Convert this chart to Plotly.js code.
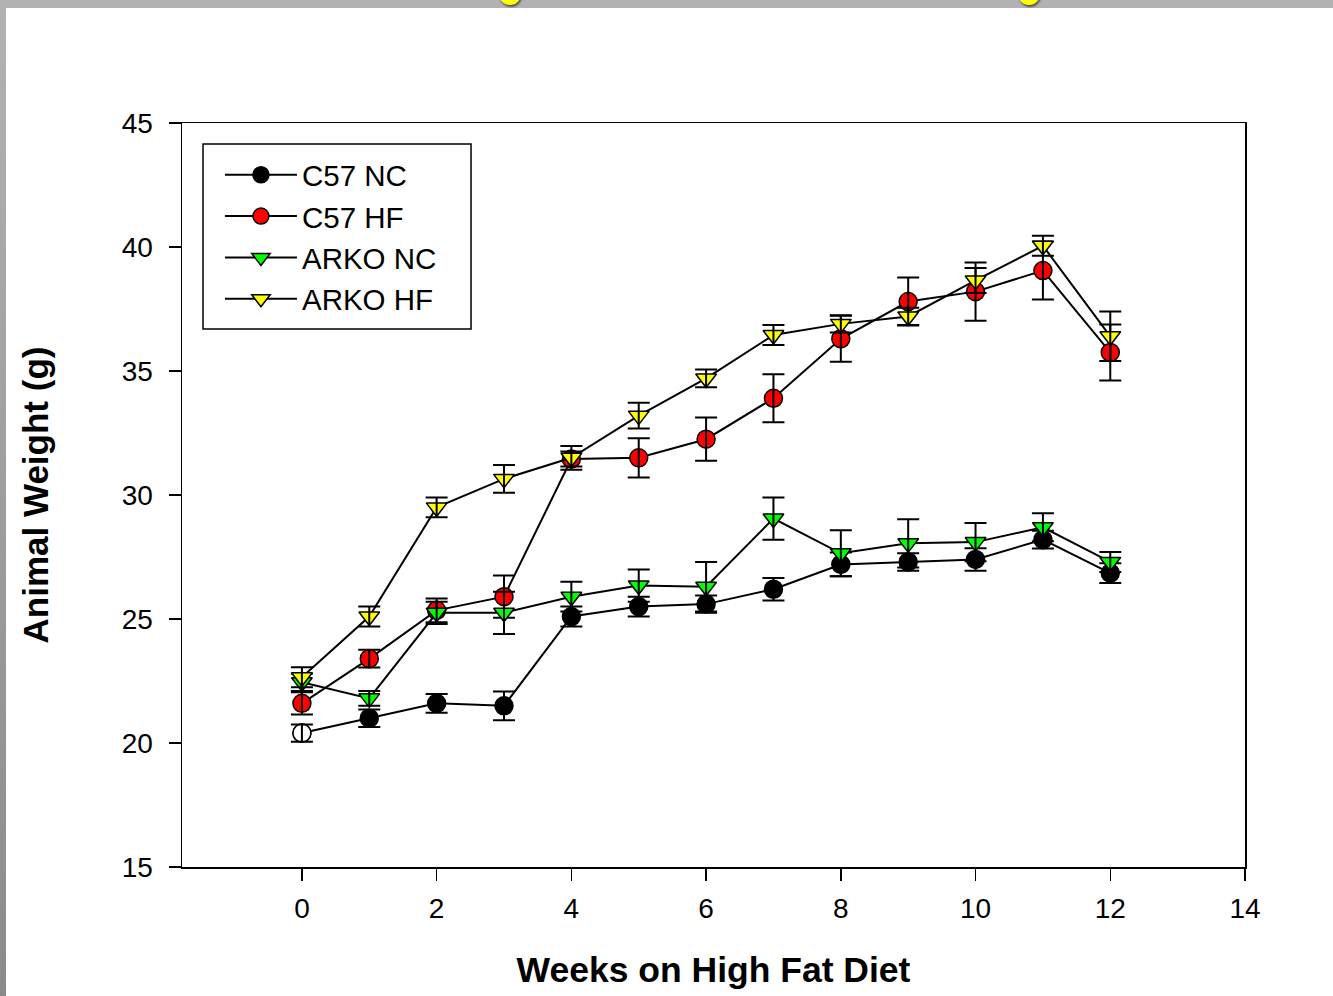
<!DOCTYPE html>
<html>
<head>
<meta charset="utf-8">
<script src="https://cdn.plot.ly/plotly-3.0.1.min.js"></script>
<style>
  html, body { margin: 0; padding: 0; }
  body {
    width: 1333px; height: 996px; overflow: hidden; position: relative;
    background: linear-gradient(to bottom, #b2b2b2 0%, #8a8a8a 100%);
  }
  #frame { position: absolute; left: 6px; top: 8px; width: 1327px; height: 988px; background: #ffffff; }
  #chart { width: 1327px; height: 988px; }
  .blob { position: absolute; width: 22px; height: 22px; border-radius: 50%;
    background: #ffff00; top: -17px; box-shadow: 1px 2px 2px #555; }
</style>
</head>
<body>
<div class="blob" style="left:499px"></div>
<div class="blob" style="left:1018px"></div>
<div id="frame"><div id="chart"></div></div>
<script>
// ---- data ----
const weeks = [0, 1, 2, 3, 4, 5, 6, 7, 8, 9, 10, 11, 12];

const seriesNames = ["C57 NC", "C57 HF", "ARKO NC", "ARKO HF"];

const c57NC    = [20.4, 21.0, 21.6, 21.5, 25.1, 25.5, 25.6, 26.2, 27.2, 27.3, 27.4, 28.2, 26.85];
const c57NCErr = [0.35, 0.35, 0.38, 0.58, 0.4, 0.4, 0.35, 0.45, 0.48, 0.35, 0.45, 0.36, 0.4];

const c57HF    = [21.6, 23.4, 25.35, 25.9, 31.45, 31.5, 32.25, 33.9, 36.3, 37.8, 38.2, 39.05, 35.75];
const c57HFErr = [0.45, 0.36, 0.48, 0.85, 0.3, 0.79, 0.87, 0.97, 0.93, 0.97, 1.17, 1.17, 1.13];

const arkoNC    = [22.45, 21.8, 25.25, 25.25, 25.9, 26.35, 26.3, 29.05, 27.65, 28.05, 28.1, 28.7, 27.3];
const arkoNCErr = [0.35, 0.3, 0.45, 0.85, 0.6, 0.65, 1.0, 0.85, 0.93, 0.97, 0.77, 0.56, 0.4];

const arkoHF    = [22.65, 25.1, 29.5, 30.65, 31.5, 33.2, 34.7, 36.45, 36.9, 37.2, 38.65, 40.05, 36.4];
const arkoHFErr = [0.4, 0.4, 0.4, 0.56, 0.48, 0.52, 0.36, 0.4, 0.35, 0.35, 0.5, 0.4, 1.0];

const xTickVals = [0, 2, 4, 6, 8, 10, 12, 14];
const yTickVals = [15, 20, 25, 30, 35, 40, 45];

// ---- styling ----
const FONT = "Liberation Sans, Arial, sans-serif";
function errBar(arr) {
  return { type: "data", array: arr, visible: true, color: "#000", thickness: 2, width: 11 };
}
function markerTrace(name, x, y, symbol, fill, extra) {
  return Object.assign({
    type: "scatter", mode: "lines+markers", name: name,
    x: x, y: y, hoverinfo: "skip",
    line: { color: "#000", width: 2 },
    marker: { symbol: symbol, size: 18, color: fill, line: { color: "#000", width: 1.5 } }
  }, extra || {});
}
// error bars drawn on top of each series' own markers (as in the original)
function errTrace(x, y, err) {
  return {
    type: "scatter", mode: "markers", showlegend: false, hoverinfo: "skip",
    x: x, y: y, error_y: errBar(err),
    marker: { size: 1, color: "rgba(0,0,0,0)" }
  };
}

const traces = [
  markerTrace(seriesNames[0], weeks, c57NC, "circle", "#000000"),
  // week-0 baseline point of C57 NC is drawn hollow in the original
  markerTrace(seriesNames[0], [weeks[0]], [c57NC[0]], "circle", "#ffffff", { mode: "markers", showlegend: false }),
  errTrace(weeks, c57NC, c57NCErr),
  markerTrace(seriesNames[1], weeks, c57HF, "circle", "#ff0000"),
  errTrace(weeks, c57HF, c57HFErr),
  markerTrace(seriesNames[2], weeks, arkoNC, "triangle-down", "#00ff00"),
  errTrace(weeks, arkoNC, arkoNCErr),
  markerTrace(seriesNames[3], weeks, arkoHF, "triangle-down", "#ffff00"),
  errTrace(weeks, arkoHF, arkoHFErr)
];

const layout = {
  width: 1327, height: 988,
  margin: { l: 176, r: 88, t: 115, b: 129 },
  paper_bgcolor: "#ffffff", plot_bgcolor: "#ffffff",
  font: { family: FONT, color: "#000", size: 28 },
  showlegend: true,
  legend: {
    x: 0.0357, y: 0.965, xanchor: "left", yanchor: "top",
    bgcolor: "rgba(0,0,0,0)", borderwidth: 0,
    font: { family: FONT, size: 29.5, color: "#000" },
    itemwidth: 72, tracegroupgap: 0
  },
  shapes: [
    { type: "rect", xref: "paper", yref: "paper", layer: "above",
      x0: 0.01976, x1: 0.2719, y0: 0.7231, y1: 0.9718,
      line: { color: "#000", width: 1.5 }, fillcolor: "rgba(0,0,0,0)" }
  ],
  xaxis: {
    range: [-1.78, 14], tickmode: "array", tickvals: xTickVals,
    showgrid: false, zeroline: false, showline: true, linecolor: "#000", linewidth: 1.5,
    mirror: true, ticks: "outside", ticklen: 12, tickwidth: 1.5, tickcolor: "#000",
    tickfont: { family: FONT, size: 28 }, ticklabelstandoff: 4,
    title: { text: "<b>Weeks on High Fat Diet</b>", font: { family: FONT, size: 35.5 }, standoff: 34 }
  },
  yaxis: {
    range: [15, 45], tickmode: "array", tickvals: yTickVals,
    showgrid: false, zeroline: false, showline: true, linecolor: "#000", linewidth: 1.5,
    mirror: true, ticks: "outside", ticklen: 12, tickwidth: 1.5, tickcolor: "#000",
    tickfont: { family: FONT, size: 28 }, ticklabelstandoff: 10,
    title: { text: "<b>Animal Weight (g)</b>", font: { family: FONT, size: 35 }, standoff: 62 }
  }
};

Plotly.newPlot("chart", traces, layout, { displayModeBar: false, staticPlot: true });
</script>
</body>
</html>
